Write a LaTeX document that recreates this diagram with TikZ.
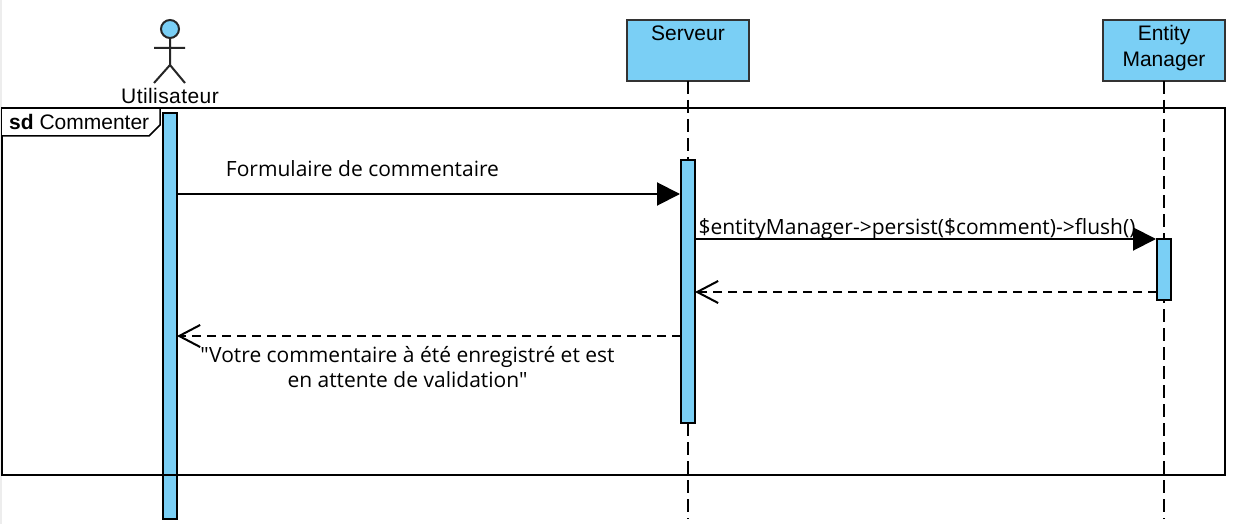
\documentclass[tikz,border=0pt]{standalone}
\usepackage{fontspec}
\setmainfont{Liberation Sans}
\newfontfamily\msgfont{Open Sans}
\usetikzlibrary{arrows.meta}
\definecolor{umlblue}{HTML}{7ACFF5}
\tikzset{
  x=1pt,y=-1pt,
  ln/.style={line width=2pt,draw=black},
  headbox/.style={ln,draw=black!80,fill=umlblue,minimum width=122pt,minimum height=61pt,inner sep=0pt,outer sep=0pt,anchor=north west},
  bar/.style={ln,fill=umlblue,minimum width=14pt,inner sep=0pt,outer sep=0pt,anchor=north west},
  lifeline/.style={ln,dash pattern=on 13pt off 6pt},
  call/.style={ln,-{Triangle[length=23pt,width=23pt]},shorten >=1pt},
  ret/.style={ln,dash pattern=on 9pt off 6pt,-{Straight Barb[length=21pt,width=22pt]}},
  title/.style={font=\fontsize{21}{26}\selectfont,align=center,inner sep=0pt,text=black},
  msg/.style={font=\msgfont\fontsize{21}{25}\selectfont,align=center,inner sep=0pt,text=black}
}
\begin{document}
\begin{tikzpicture}
\useasboundingbox (0,0) rectangle (1253,524);
\fill[white] (0,0) rectangle (1253,524);
\fill[black!7] (0,0) rectangle (2,524);
% header boxes
\node[headbox] (srv) at (627,20) {};
\node[headbox] (ent) at (1103,20) {};
\node[title] (srvt) at (688,33) {Serveur};
\node[title,anchor=north] (entt) at (1164,25) {Entity\\Manager};
% lifeline ends
\coordinate (srvend) at (688,519);
\coordinate (entend) at (1164,519);
\draw[lifeline] (srv.south) -- (srvend);
\draw[lifeline] (ent.south) -- (entend);
% actor
\node[circle,ln,draw=black!85,fill=umlblue,minimum size=18pt,inner sep=0pt,outer sep=0pt] (head) at (170,29) {};
\coordinate (hip) at (170,65);
\coordinate (arml) at (154,48);
\coordinate (armr) at (185,48);
\coordinate (legl) at (154,83);
\coordinate (legr) at (185,83);
\draw[ln,draw=black!85] (head.south) -- (hip) (arml) -- (armr) (legl) -- (hip) -- (legr);
\node[title,font=\fontsize{21}{26}\selectfont\addfontfeature{LetterSpace=2}] (actor) at (170,96) {Utilisateur};
% activation bars
\node[bar,minimum height=406pt] (ua) at (163,113) {};
\node[bar,minimum height=263pt] (sa) at (681,160) {};
\node[bar,minimum height=61pt] (ea) at (1157,239) {};
% frame
\coordinate (f1) at (2,108);
\coordinate (f2) at (1225,475);
\draw[ln] (f1) rectangle (f2);
\fill[white] (2,108) -- (160,108) -- (160,125) -- (149,136) -- (2,136) -- cycle;
\draw[ln,line width=1.5pt] (160,108) -- (160,125) -- (149,136) -- (2,136);
\draw[ln] (2,108) -- (160,108);
\node[title,anchor=west] (frl) at (9,122) {\textbf{sd} Commenter};
% messages
\draw[call] (ua.east |- 0,194) -- (sa.west |- 0,194);
\node[msg] (m1) at (362.5,169) {Formulaire de commentaire};
\draw[call] (sa.east |- 0,239) -- (ea.north west);
\node[msg] (m2) at (917,229) {\$entityManager->persist(\$comment)->flush()};
\draw[ret] (ea.west |- 0,292) -- (sa.east |- 0,292);
\draw[ret] (sa.west |- 0,336) -- (ua.east |- 0,336);
\node[msg] (m3) at (407.5,367) {"Votre commentaire à été enregistré et est\\en attente de validation"};
\end{tikzpicture}
\end{document}
